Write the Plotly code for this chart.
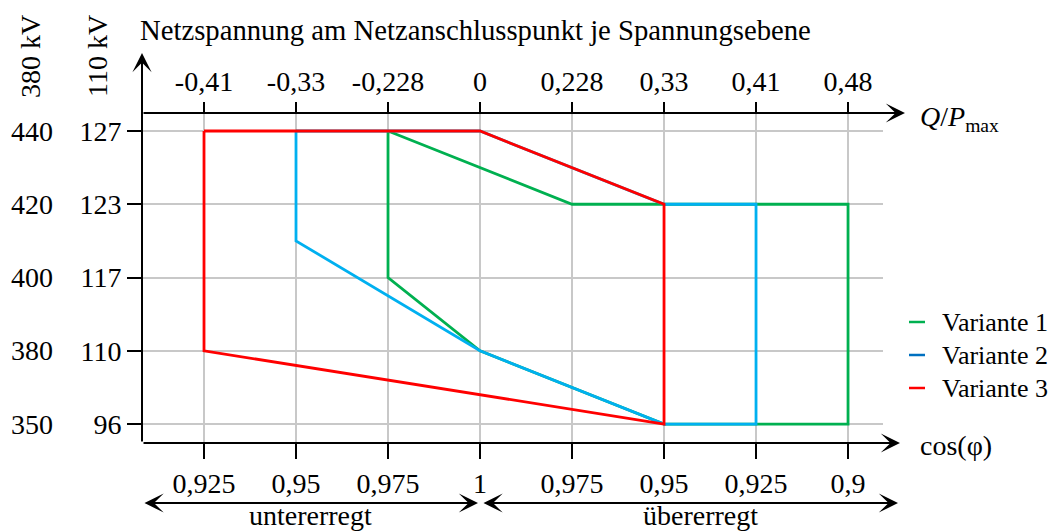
import numpy as np
import plotly.graph_objects as go

# ---- data ----
q_ticks = [-0.41, -0.33, -0.228, 0, 0.228, 0.33, 0.41, 0.48]
q_labels = ["-0,41", "-0,33", "-0,228", "0", "0,228", "0,33", "0,41", "0,48"]
cos_labels = ["0,925", "0,95", "0,975", "1", "0,975", "0,95", "0,925", "0,9"]
u110_levels = [96, 110, 117, 123, 127]
u380_levels = [350, 380, 400, 420, 440]

v1_q = [-0.228, 0.228, 0.48, 0.48, 0.33, 0, -0.228, -0.228]
v1_u = [127, 123, 123, 96, 96, 110, 117, 127]
v2_q = [-0.33, 0, 0.33, 0.41, 0.41, 0.33, 0, -0.33, -0.33]
v2_u = [127, 127, 123, 123, 96, 96, 110, 120, 127]
v3_q = [-0.41, 0, 0.33, 0.33, -0.41, -0.41]
v3_u = [127, 127, 123, 96, 110, 127]

series = [
    ("Variante 1", v1_q, v1_u, "#00b050", "#00b050"),
    ("Variante 2", v2_q, v2_u, "#00b0f0", "#0070c0"),
    ("Variante 3", v3_q, v3_u, "#ff0000", "#ff0000"),
]

# ---- scale helpers (equal spacing of the tick levels) ----
x_pos = np.arange(len(q_ticks)) - 3
y_pos = np.arange(len(u110_levels))


def xmap(q):
    return np.interp(q, q_ticks, x_pos)


def ymap(u):
    return np.interp(u, u110_levels, y_pos)


FONT = "Liberation Serif"
FS = 28
OFF = 8  # page body margin
W, H = 1054, 523
L, R, T, B = 134, 179, 105, 88
PW, PH = W - L - R, H - T - B


def px(xs):
    return (xs - OFF - L) / PW


def py(ys):
    return (H - B - (ys - OFF)) / PH


fig = go.Figure()
for name, q, u, col, _ in series:
    fig.add_trace(go.Scatter(x=xmap(q), y=ymap(u), mode="lines", name=name,
                             line=dict(color=col, width=2.8), showlegend=False,
                             hoverinfo="skip"))
# helper trace so the top axis exists
fig.add_trace(go.Scatter(x=x_pos, y=[y_pos[0]] * len(x_pos), xaxis="x2", mode="none",
                         showlegend=False, hoverinfo="skip"))

xr = [-3.674, 4.380]
yr = [-0.259, 4.246]
grid = "#c8c8c8"

fig.update_layout(
    width=W, height=H, margin=dict(l=L, r=R, t=T, b=B),
    paper_bgcolor="white", plot_bgcolor="white",
    font=dict(family=FONT, size=FS, color="black"),
    xaxis=dict(range=xr, tickvals=x_pos, ticktext=cos_labels, ticks="outside",
               ticklen=15, tickwidth=2, tickcolor="black", showgrid=True,
               gridcolor=grid, gridwidth=1.5, zeroline=False, showline=False,
               tickfont=dict(family=FONT, size=FS)),
    xaxis2=dict(range=xr, overlaying="x", side="top", tickvals=x_pos, ticktext=q_labels,
                ticks="outside", ticklen=10, tickwidth=2, tickcolor="black",
                showgrid=False, zeroline=False, showline=False,
                tickfont=dict(family=FONT, size=FS)),
    yaxis=dict(range=yr, tickvals=y_pos, ticktext=[str(v) for v in u110_levels],
               ticks="outside", ticklen=14, tickwidth=2, tickcolor="black",
               showgrid=True, gridcolor=grid, gridwidth=1.5, zeroline=False,
               showline=False, tickfont=dict(family=FONT, size=FS)),
)

ann = []
# axis arrows
arrow_common = dict(text="", showarrow=True, arrowhead=3, arrowsize=1.6, arrowwidth=2,
                    arrowcolor="black", xref="paper", yref="paper", standoff=0,
                    startstandoff=0)
ann.append(dict(x=px(142), y=py(53), ax=0, ay=390, **arrow_common))
ann.append(dict(x=px(905), y=py(113), ax=-(905 - 142), ay=0, **arrow_common))
ann.append(dict(x=px(900), y=py(443), ax=-(900 - 142), ay=0, **arrow_common))
ann.append(dict(x=px(478), y=py(503), ax=-(478 - 143), ay=0, arrowside="end+start",
                startarrowhead=3, startarrowsize=1.6, **arrow_common))
ann.append(dict(x=px(898), y=py(503), ax=-(898 - 482), ay=0, arrowside="end+start",
                startarrowhead=3, startarrowsize=1.6, **arrow_common))

txt = dict(showarrow=False, font=dict(family=FONT, size=FS, color="black"))
# 380 kV level labels
for yv, lab in zip(y_pos, u380_levels):
    ann.append(dict(x=px(55), y=yv, xref="paper", yref="y", text=str(lab),
                    xanchor="right", yanchor="middle", **txt))
ann.append(dict(x=px(30), y=py(56), xref="paper", yref="paper", text="380 kV",
                textangle=-90, xanchor="center", yanchor="middle", **txt))
ann.append(dict(x=px(97), y=py(56), xref="paper", yref="paper", text="110 kV",
                textangle=-90, xanchor="center", yanchor="middle", **txt))
ann.append(dict(x=px(138), y=py(30), xref="paper", yref="paper",
                text="Netzspannung am Netzanschlusspunkt je Spannungsebene",
                xanchor="left", yanchor="middle", showarrow=False,
                font=dict(family=FONT, size=28.7, color="black")))
ann.append(dict(x=px(918), y=py(118), xref="paper", yref="paper",
                text="<i>Q</i>/<i>P</i><sub>max</sub>", xanchor="left", yanchor="middle", **txt))
ann.append(dict(x=px(918), y=py(445), xref="paper", yref="paper",
                text="cos(φ)", xanchor="left", yanchor="middle", **txt))
ann.append(dict(x=px(310), y=py(515), xref="paper", yref="paper",
                text="untererregt", xanchor="center", yanchor="middle", **txt))
ann.append(dict(x=px(700), y=py(515), xref="paper", yref="paper",
                text="übererregt", xanchor="center", yanchor="middle", **txt))

# manual legend
shapes = []
for i, (name, _, _, _, lcol) in enumerate(series):
    yy = py(322 + 33 * i)
    shapes.append(dict(type="line", xref="paper", yref="paper", x0=px(909), x1=px(925),
                       y0=yy, y1=yy, line=dict(color=lcol, width=2.5)))
    ann.append(dict(x=px(940), y=yy, xref="paper", yref="paper", text=name,
                    xanchor="left", yanchor="middle", showarrow=False,
                    font=dict(family=FONT, size=26, color="black")))

fig.update_layout(annotations=ann, shapes=shapes)
fig.write_html("out.html")
